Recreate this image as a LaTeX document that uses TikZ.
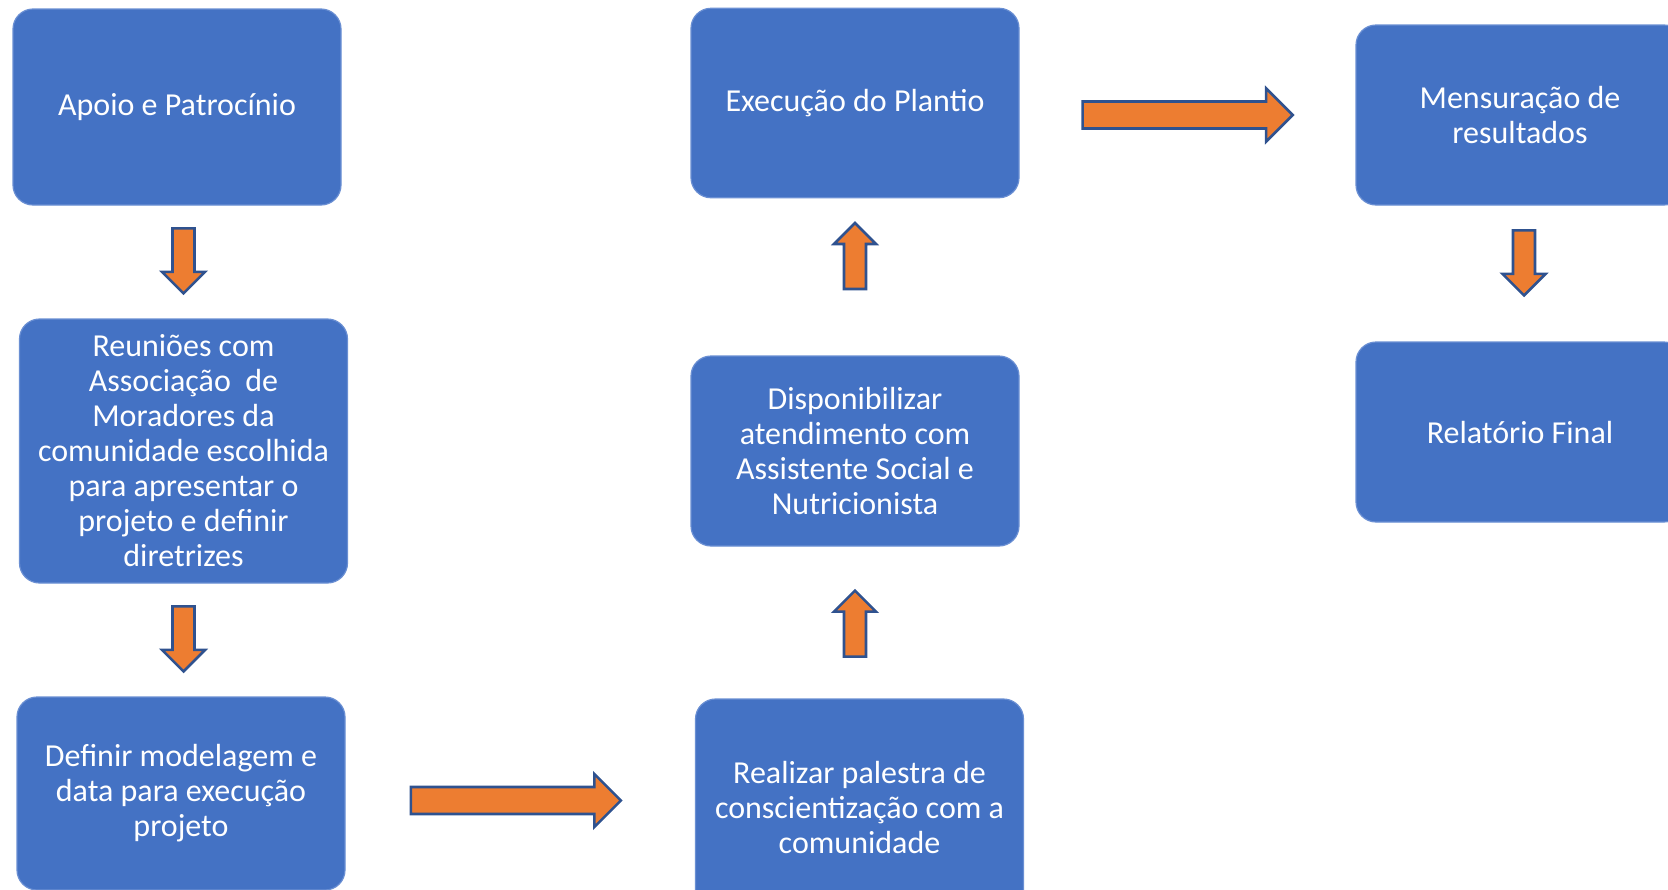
\documentclass[tikz,border=0pt]{standalone}
\usepackage{fontspec}
\setmainfont{Carlito}
\usepackage[svgnames]{xcolor}
\usepackage{tikz}
\usetikzlibrary{shapes.arrows}

\definecolor{BoxBlue}{HTML}{4472C4}
\definecolor{BoxLine}{HTML}{6A8FD3}
\definecolor{ArrowOrange}{HTML}{ED7D31}
\definecolor{ArrowLine}{HTML}{2F528F}

\begin{document}
\begin{tikzpicture}[x=0.5pt,y=-0.5pt]
\tikzset{
box/.style={ rectangle , rounded corners=10pt ,
minimum width=164pt , inner sep=0pt ,
draw=BoxLine , line width=0.6pt , fill=BoxBlue ,
text=white , align=center ,
font=\fontsize{16pt}{17.5pt}\selectfont },
bigarrow/.style={ single arrow , single arrow tip angle=90 ,
inner xsep=0pt , outer sep=0pt ,
draw=ArrowLine , line width=1.3pt , fill=ArrowOrange },
downarrow/.style={ bigarrow , inner ysep=4.85pt , minimum height=32.5pt ,
minimum width=21.5pt , single arrow head extend=5.25pt , rotate=-90 , xshift=-3.3pt },
uparrow/.style={ bigarrow , inner ysep=4.85pt , minimum height=33pt ,
minimum width=21pt , single arrow head extend=5pt , rotate=90 , xshift=-3.3pt },
rightarrow/.style={ bigarrow , inner ysep=6.1pt , minimum height=105pt ,
minimum width=26pt , single arrow head extend=6.5pt , xshift=-3.3pt }
}

\useasboundingbox (0,0) rectangle (1668,889);

\node[box, minimum height=98pt] (apoio) at (177,107) {Apoio e Patrocínio};
\node[box, minimum height=132pt] (reunioes) at (183.5,451)
	{Reuniões com\\ Associação \ de\\ Moradores da\\ comunidade escolhida\\
	para apresentar o\\ projeto e definir\\ diretrizes};
\node[box, minimum height=96.5pt] (definir) at (181,793.5)
	{Definir modelagem e\\ data para execução\\ projeto};
\node[box, minimum height=108pt] (realizar) at (859.5,807)
	{Realizar palestra de\\ conscientização com a\\ comunidade};
\node[box, minimum height=95pt] (dispon) at (855,451)
	{Disponibilizar\\ atendimento com\\ Assistente Social e\\ Nutricionista};
\node[box, minimum height=94.75pt] (plantio) at (855,103) {Execução do Plantio};
\node[box, minimum height=90pt] (mensur) at (1520,115) {Mensuração de\\ resultados};
\node[box, minimum height=90pt] (relat) at (1520,432) {Relatório Final};

% setas entre as etapas
\path (reunioes.north |- apoio.south) -- node[downarrow]{} (reunioes.north);
\path (reunioes.south) -- node[downarrow]{} (reunioes.south |- definir.north);
\path ([yshift=-3.5pt]definir.east) -- node[rightarrow, pos=0.487]{} ([yshift=-3.5pt]definir.east -| realizar.west);
\path (dispon.south |- realizar.north) -- node[uparrow]{} (dispon.south);
\path (dispon.north) -- node[uparrow, pos=0.64]{} (plantio.south);
\path (plantio.east |- mensur.west) -- node[rightarrow]{} (mensur.west);
\path ([xshift=2pt]mensur.south) -- node[downarrow, pos=0.43]{} ([xshift=2pt]relat.north);

\end{tikzpicture}
\end{document}
